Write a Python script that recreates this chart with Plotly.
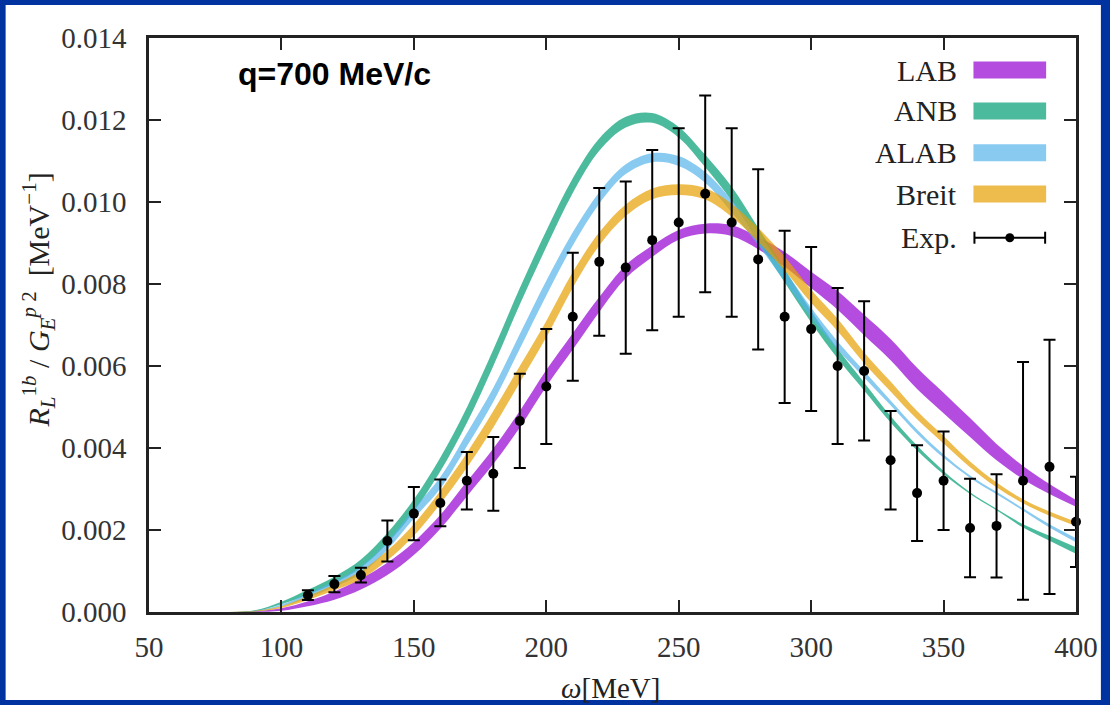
import plotly.graph_objects as go

# ---------------- data ----------------
omega_grid = [80, 90, 100, 110, 120, 130, 140, 150, 160, 170, 180, 190, 200, 210, 220, 230,
              240, 250, 260, 270, 280, 290, 300, 310, 320, 330, 340, 350, 360, 370, 380, 390, 400]

# band centres and half-widths [MeV^-1]
lab_c = [0, 0.00001, 0.00006, 0.0002, 0.0004, 0.00068, 0.00105, 0.00155, 0.0022, 0.0030, 0.0038, 0.0047,
         0.0057, 0.0066, 0.0075, 0.0083, 0.0088, 0.0092, 0.00935, 0.0093, 0.0090, 0.0086, 0.0081, 0.0076,
         0.0070, 0.0064, 0.0057, 0.0051, 0.0045, 0.0039, 0.0034, 0.0030, 0.00265]
lab_h = [0, 0.00001, 0.00003, 0.00006, 0.0001, 0.00013, 0.00015, 0.00016, 0.00017, 0.00018, 0.00019, 0.0002,
         0.0002, 0.0002, 0.00018, 0.00016, 0.00014, 0.00012, 0.00012, 0.00013, 0.00015, 0.00018, 0.0002,
         0.00023, 0.00025, 0.00026, 0.00026, 0.00025, 0.00023, 0.0002, 0.00016, 0.00012, 0.00008]

anb_c = [0, 0.00003, 0.00022, 0.00048, 0.00078, 0.00118, 0.0018, 0.0026, 0.0036, 0.0048, 0.0062, 0.0077,
         0.0091, 0.0104, 0.0114, 0.01195, 0.01205, 0.0117, 0.0110, 0.0102, 0.0092, 0.0082, 0.0072, 0.0063,
         0.0055, 0.0047, 0.0040, 0.0034, 0.0029, 0.0025, 0.0021, 0.0018, 0.0015]
anb_h = [0, 0.00001, 0.00003, 0.00006, 0.00008, 0.0001, 0.00013, 0.00015, 0.00017, 0.00019, 0.0002, 0.0002,
         0.0002, 0.00018, 0.00015, 0.00013, 0.00012, 0.00013, 0.00015, 0.00017, 0.00017, 0.00016, 0.00014,
         0.00012, 0.0001, 0.00008, 0.00006, 0.00004, 0.00002, 0.00002, 0.00004, 0.00006, 0.00008]

alab_c = [0, 0.00002, 0.00016, 0.0004, 0.00068, 0.00102, 0.00162, 0.0024, 0.00315, 0.0042, 0.0053, 0.0066,
          0.0079, 0.0091, 0.0101, 0.0108, 0.01108, 0.0110, 0.0106, 0.0099, 0.0091, 0.0082, 0.0073, 0.0065,
          0.0058, 0.0051, 0.0044, 0.0038, 0.0033, 0.0029, 0.0025, 0.0021, 0.00175]
alab_h = [0, 0.00001, 0.00002, 0.00005, 0.00007, 0.00009, 0.0001, 0.00012, 0.00014, 0.00016, 0.00017, 0.00018,
          0.00018, 0.00016, 0.00014, 0.00012, 0.00011, 0.00012, 0.00013, 0.00015, 0.00015, 0.00014, 0.00012,
          0.0001, 0.00008, 0.00006, 0.00005, 0.00004, 0.00003, 0.00003, 0.00003, 0.00004, 0.00005]

breit_c = [0, 0.00002, 0.00012, 0.00034, 0.0006, 0.0009, 0.00138, 0.002, 0.0028, 0.0037, 0.0047, 0.0058,
           0.0069, 0.0081, 0.0091, 0.0098, 0.0102, 0.0103, 0.0102, 0.0098, 0.0092, 0.0085, 0.0077, 0.0070,
           0.0062, 0.0055, 0.0048, 0.0042, 0.0036, 0.0031, 0.0027, 0.0024, 0.00215]
breit_h = [0, 0.00001, 0.00002, 0.00005, 0.00007, 0.0001, 0.00012, 0.00014, 0.00016, 0.00018, 0.0002, 0.0002,
           0.0002, 0.00019, 0.00016, 0.00014, 0.00013, 0.00013, 0.00014, 0.00016, 0.00017, 0.00017, 0.00016,
           0.00015, 0.00013, 0.00012, 0.0001, 0.00009, 0.00007, 0.00006, 0.00005, 0.00005, 0.00005]

exp_omega = [110, 120, 130, 140, 150, 160, 170, 180, 190, 200, 210, 220, 230, 240, 250, 260, 270, 280,
             290, 300, 310, 320, 330, 340, 350, 360, 370, 380, 390, 400]
exp_val = [0.00041, 0.00068, 0.0009, 0.00173, 0.0024, 0.00266, 0.0032, 0.00337, 0.00466, 0.0055, 0.0072,
           0.00854, 0.0084, 0.00907, 0.0095, 0.0102, 0.0095, 0.0086, 0.0072, 0.0069, 0.0060, 0.00588,
           0.0037, 0.0029, 0.0032, 0.00205, 0.0021, 0.0032, 0.00354, 0.0022]
exp_err = [0.00012, 0.0002, 0.00018, 0.0005, 0.00065, 0.00057, 0.0007, 0.0009, 0.00115, 0.0014, 0.00156,
           0.0018, 0.0021, 0.0022, 0.0023, 0.0024, 0.0023, 0.0022, 0.0021, 0.002, 0.0019, 0.0017,
           0.0012, 0.00117, 0.0012, 0.0012, 0.00126, 0.0029, 0.0031, 0.0011]

x_ticks = [50, 100, 150, 200, 250, 300, 350, 400]
y_ticks = [0.000, 0.002, 0.004, 0.006, 0.008, 0.010, 0.012, 0.014]

bands = [
    ("LAB", lab_c, lab_h, "rgba(148,0,211,0.7)"),
    ("ANB", anb_c, anb_h, "rgba(0,158,115,0.7)"),
    ("ALAB", alab_c, alab_h, "rgba(86,180,233,0.7)"),
    ("Breit", breit_c, breit_h, "rgba(230,159,0,0.7)"),
]

SERIF = "Liberation Serif"

fig = go.Figure()
for name, c, h, fillc in bands:
    lo = [a - b for a, b in zip(c, h)]
    hi = [a + b for a, b in zip(c, h)]
    fig.add_trace(go.Scatter(x=omega_grid, y=lo, mode="lines", line=dict(width=0, shape="spline"),
                             showlegend=False, hoverinfo="skip"))
    fig.add_trace(go.Scatter(x=omega_grid, y=hi, mode="lines", line=dict(width=0, shape="spline"),
                             fill="tonexty", fillcolor=fillc, name=name, showlegend=False))

fig.add_trace(go.Scatter(
    x=exp_omega, y=exp_val, mode="markers", name="Exp.",
    marker=dict(color="black", size=10),
    error_y=dict(type="data", array=exp_err, visible=True, color="black", thickness=2, width=6),
    cliponaxis=False, showlegend=False))

# ---------------- layout ----------------
L, R, T, B = 149, 30, 38, 93
W, H = 1110, 705
pw, ph = W - L - R, H - T - B


def px(xp):
    return (xp - L) / pw


def py(yp):
    return (H - B - yp) / ph


shapes = [
    dict(type="rect", xref="paper", yref="paper", x0=px(5), x1=px(1105), y0=py(700), y1=py(5),
         fillcolor="white", line=dict(width=0), layer="below"),
]
annotations = []

# custom legend (labels left, key right)
leg_rows = [70, 111, 152.7, 194]
for (name, c, h, fillc), yy in zip(bands, leg_rows):
    shapes.append(dict(type="rect", xref="paper", yref="paper", x0=px(977), x1=px(1050),
                       y0=py(yy + 8.5), y1=py(yy - 8.5), fillcolor=fillc, line=dict(width=0)))
    annotations.append(dict(text=name, xref="paper", yref="paper", x=px(962), y=py(yy),
                            xanchor="right", yanchor="middle", showarrow=False,
                            font=dict(family=SERIF, size=30, color="#222")))
ye = 237.7
shapes += [
    dict(type="line", xref="paper", yref="paper", x0=px(978), x1=px(1049), y0=py(ye), y1=py(ye),
         line=dict(color="black", width=2)),
    dict(type="line", xref="paper", yref="paper", x0=px(978), x1=px(978), y0=py(ye - 6), y1=py(ye + 6),
         line=dict(color="black", width=2)),
    dict(type="line", xref="paper", yref="paper", x0=px(1049), x1=px(1049), y0=py(ye - 6), y1=py(ye + 6),
         line=dict(color="black", width=2)),
    dict(type="circle", xref="paper", yref="paper", x0=px(1013.5 - 4.5), x1=px(1013.5 + 4.5),
         y0=py(ye + 4.5), y1=py(ye - 4.5), fillcolor="black", line=dict(width=0)),
]
annotations.append(dict(text="Exp.", xref="paper", yref="paper", x=px(962), y=py(ye),
                        xanchor="right", yanchor="middle", showarrow=False,
                        font=dict(family=SERIF, size=30, color="#222")))

annotations.append(dict(text="<b>q=700 MeV/c</b>", xref="paper", yref="paper", x=px(236), y=py(74),
                        xanchor="left", yanchor="middle", showarrow=False,
                        font=dict(family="Liberation Sans", size=32, color="black")))

annotations.append(dict(text="<i>ω</i>[MeV]", xref="paper", yref="paper", x=px(612), y=py(688),
                        xanchor="center", yanchor="middle", showarrow=False,
                        font=dict(family=SERIF, size=29, color="#222")))
annotations.append(dict(
    text="<i>R</i><sub><i>L</i></sub><sup>1<i>b</i></sup> / <i>G</i><sub><i>E</i></sub><sup><i>p</i> 2</sup>  [MeV<sup>−1</sup>]",
    xref="paper", yref="paper", x=px(38), y=py(300), xanchor="center", yanchor="middle",
    textangle=-90, showarrow=False, font=dict(family=SERIF, size=30, color="#222")))

axis_common = dict(showgrid=False, zeroline=False, showline=True, linecolor="#222", linewidth=2.5,
                   mirror="ticks", ticks="inside", ticklen=12, tickwidth=1.5, tickcolor="#222",
                   tickfont=dict(family=SERIF, size=29, color="#333"))

fig.update_layout(
    width=W, height=H,
    margin=dict(l=L, r=R, t=T, b=B, pad=0),
    paper_bgcolor="rgb(0,51,160)",
    plot_bgcolor="white",
    showlegend=False,
    xaxis=dict(range=[50, 400], tickvals=x_ticks, ticktext=[str(v) for v in x_ticks],
               ticklabelstandoff=7, **axis_common),
    yaxis=dict(range=[0, 0.014], tickvals=y_ticks, ticktext=[f"{v:.3f}" for v in y_ticks],
               ticklabelstandoff=14, **axis_common),
    shapes=shapes,
    annotations=annotations,
)

fig.write_html("out.html")
